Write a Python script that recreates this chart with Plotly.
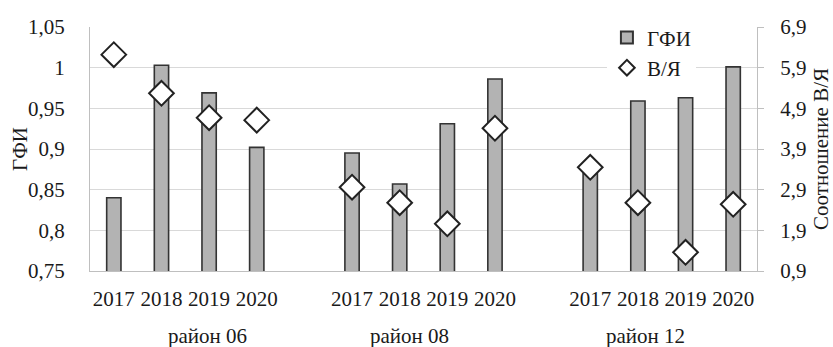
import plotly.graph_objects as go

# District groups and years shown on the category axis
districts = ["район 06", "район 08", "район 12"]
years = ["2017", "2018", "2019", "2020"]

# ГФИ index per district (left axis)
gfi_06 = [0.840, 1.003, 0.969, 0.902]
gfi_08 = [0.895, 0.857, 0.931, 0.986]
gfi_12 = [0.870, 0.959, 0.963, 1.001]

# В/Я ratio per district (right axis)
vy_06 = [6.22, 5.27, 4.67, 4.61]
vy_08 = [2.96, 2.58, 2.06, 4.41]
vy_12 = [3.45, 2.58, 1.36, 2.54]

left_ticks = [0.75, 0.8, 0.85, 0.9, 0.95, 1.0, 1.05]
right_ticks = [0.9, 1.9, 2.9, 3.9, 4.9, 5.9, 6.9]

gfi = gfi_06 + gfi_08 + gfi_12
vy = vy_06 + vy_08 + vy_12

# each district occupies four year slots followed by one empty slot
slot = len(years) + 1
xpos = [g * slot + i for g in range(len(districts)) for i in range(len(years))]
xtext = years * len(districts)

def fmt(v):
    s = f"{v:.2f}".rstrip("0").rstrip(".")
    return s.replace(".", ",")

FONT = "Liberation Serif"
FS = 21
TXT = "#1a1a1a"

fig = go.Figure()
fig.add_trace(go.Bar(
    x=xpos, y=gfi, name="ГФИ", width=0.3,
    marker=dict(color="#b3b3b3", line=dict(color="#333333", width=1.6)),
))
fig.add_trace(go.Scatter(
    x=xpos, y=vy, name="В/Я", mode="markers", yaxis="y2",
    marker=dict(symbol="diamond", size=19, color="white",
                line=dict(color="#222222", width=2)),
))

# district labels beneath the year labels
label_x = [1.96, 6.2, 11.17]
for name, lx in zip(districts, label_x):
    fig.add_annotation(x=lx, y=-0.266, xref="x", yref="paper", text=name,
                       showarrow=False, xanchor="center", yanchor="middle",
                       font=dict(family=FONT, size=FS, color=TXT))

# left axis title
fig.add_annotation(x=-0.105, y=0.5, xref="paper", yref="paper", text="ГФИ",
                   textangle=-90, showarrow=False, xanchor="center",
                   yanchor="middle", font=dict(family=FONT, size=FS, color=TXT))

fig.update_layout(
    width=833, height=347,
    margin=dict(l=90, r=76, t=27, b=76),
    paper_bgcolor="white", plot_bgcolor="white",
    font=dict(family=FONT, size=FS, color=TXT),
    showlegend=True,
    legend=dict(x=0.775, y=1.04, xanchor="left", yanchor="top",
                bgcolor="white", font=dict(family=FONT, size=FS, color=TXT),
                itemwidth=30, tracegroupgap=0, itemsizing="constant"),
    xaxis=dict(range=[-0.5, len(districts) * slot - 1.5],
               tickvals=xpos, ticktext=xtext, ticks="",
               showline=True, linecolor="#bfbfbf", linewidth=1,
               showgrid=False, zeroline=False, ticklabelstandoff=9,
               automargin=False),
    yaxis=dict(range=[0.75, 1.05], tickvals=left_ticks,
               ticktext=[fmt(v) for v in left_ticks],
               showline=True, linecolor="#bfbfbf", linewidth=1,
               gridcolor="#d9d9d9", gridwidth=1.2, zeroline=False,
               ticks="", ticklabelstandoff=20, automargin=False),
    yaxis2=dict(range=[0.9, 6.9], tickvals=right_ticks,
                ticktext=[fmt(v) for v in right_ticks],
                overlaying="y", side="right",
                showline=True, linecolor="#bfbfbf", linewidth=1,
                showgrid=False, zeroline=False,
                ticks="outside", ticklen=6, tickcolor="#bfbfbf",
                ticklabelstandoff=12, automargin=False,
                title=dict(text="Соотношение В/Я", standoff=8,
                           font=dict(family=FONT, size=FS, color=TXT))),
)

fig.write_html("out.html")
